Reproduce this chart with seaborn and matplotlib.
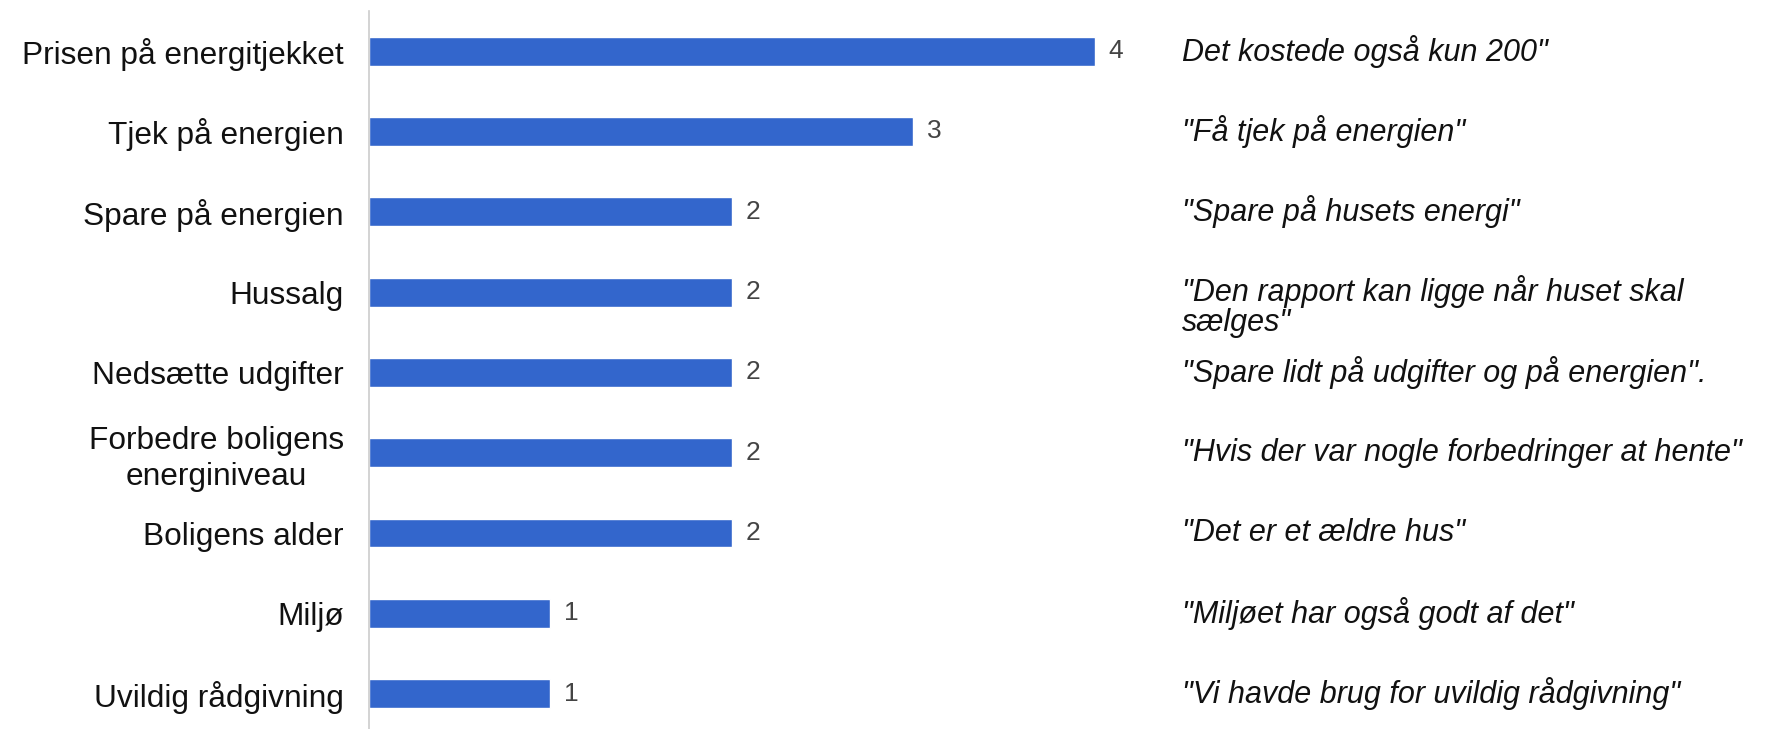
import matplotlib
matplotlib.use("Agg")
import matplotlib.pyplot as plt
import matplotlib.transforms as mtransforms
import seaborn as sns
import pandas as pd

categories = [
    "Prisen på energitjekket",
    "Tjek på energien",
    "Spare på energien",
    "Hussalg",
    "Nedsætte udgifter",
    "Forbedre boligens\nenerginiveau",
    "Boligens alder",
    "Miljø",
    "Uvildig rådgivning",
]
values = [4, 3, 2, 2, 2, 2, 2, 1, 1]
quotes = [
    "Det kostede også kun 200\"",
    "\"Få tjek på energien\"",
    "\"Spare på husets energi\"",
    "\"Den rapport kan ligge når huset skal\nsælges\"",
    "\"Spare lidt på udgifter og på energien\".",
    "\"Hvis der var nogle forbedringer at hente\"",
    "\"Det er et ældre hus\"",
    "\"Miljøet har også godt af det\"",
    "\"Vi havde brug for uvildig rådgivning\"",
]

sns.set_theme(style="white")
plt.rcParams["font.family"] = ["Liberation Sans", "DejaVu Sans"]

df = pd.DataFrame({"kategori": categories, "antal": values})

fig = plt.figure(figsize=(17.74, 7.29), dpi=100)
ax = fig.add_axes([369 / 1774, 0.0, 762 / 1774, 1 - 11 / 729])

sns.barplot(data=df, x="antal", y="kategori", orient="h", color="#3366CC",
            saturation=1, width=0.36, ax=ax)

ax.set_xlim(0, 4.2)
ax.set_ylim(8.44, -0.5)
ax.set_xlabel("")
ax.set_ylabel("")
ax.set_xticks([])
for s in ["top", "right", "bottom"]:
    ax.spines[s].set_visible(False)
ax.spines["left"].set_color("#cccccc")
ax.spines["left"].set_linewidth(1.2)
ax.tick_params(axis="y", length=0, pad=18, labelsize=22.8, labelcolor="#111111")
for lab in ax.get_yticklabels():
    if "\n" in lab.get_text():
        lab.set_multialignment("center")
        lab.set_linespacing(1.24)

ax.bar_label(ax.containers[0], labels=[str(v) for v in values], padding=10,
             fontsize=19, color="#444444")

trans = mtransforms.blended_transform_factory(fig.transFigure, ax.transData)
for i, q in enumerate(quotes):
    if "\n" in q:
        ax.annotate(q, xy=(1182 / 1774, i), xycoords=trans, xytext=(0, 12.5),
                    textcoords="offset points", ha="left", va="top",
                    fontsize=22, style="italic", color="#111111", linespacing=1.02)
    else:
        ax.text(1182 / 1774, i, q, transform=trans, ha="left", va="center",
                fontsize=22, style="italic", color="#111111")

fig.savefig("out.png", dpi=100)
